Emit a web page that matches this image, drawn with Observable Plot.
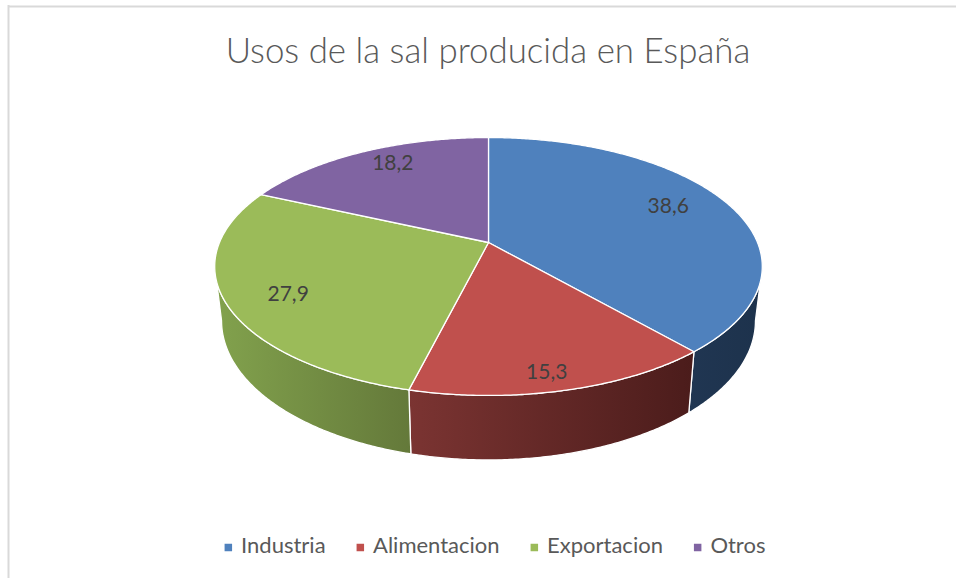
<!DOCTYPE html>
<html><head><meta charset="utf-8">
<script src="https://cdn.jsdelivr.net/npm/d3@7"></script>
<script src="https://cdn.jsdelivr.net/npm/@observablehq/plot@0.6"></script>
<style>
html,body{margin:0;padding:0;background:#fff;}
#chart svg{display:block;}
</style></head><body><div id="chart"></div>
<script>
// ---- data ----
const title = "Usos de la sal producida en España";
const categories = ["Industria", "Alimentacion", "Exportacion", "Otros"];
const values = [38.6, 15.3, 27.9, 18.2];
const valueLabels = ["38,6", "15,3", "27,9", "18,2"];
const colors = ["#4f81bd", "#c0504d", "#9bbb59", "#8064a2"];
const sideColors = [["#203652", "#1d324c"], ["#7b3432", "#4b1c1b"], ["#82a24d", "#64793a"], ["#5f4a7a", "#4a3a60"]];

// ---- layout / projection ----
const W = 956, H = 578;
const cx = 488, cy = 242, A = 269, B = 124.5, K = 0.186, DEPTH = 52.5, SHRINK = 0.975;
const FONT = "Lato, 'Open Sans', sans-serif";
function proj(t, r = 1) {
  const X = r * Math.sin(t), Y = -r * Math.cos(t), w = 1 - K * Y;
  return [cx + A * X / w, cy + B * Y / w, w];
}
function bottom(t) {
  const [x, y, w] = proj(t);
  return [cx + (x - cx) * SHRINK, y + DEPTH / w];
}
function arcPts(a0, a1, f) {
  const n = Math.max(2, Math.ceil((a1 - a0) / (Math.PI / 360)));
  return d3.range(n + 1).map(k => f(a0 + (a1 - a0) * k / n));
}

const total = d3.sum(values);
let acc = 0;
const slices = categories.map((cat, i) => {
  const a0 = acc / total * 2 * Math.PI; acc += values[i];
  const a1 = acc / total * 2 * Math.PI;
  return {cat, i, a0, a1, mid: (a0 + a1) / 2};
});

// top faces
const topRows = [];
for (const s of slices) {
  const pts = [[cx, cy], ...arcPts(s.a0, s.a1, t => proj(t))];
  for (const p of pts) topRows.push({cat: s.cat, x: p[0], y: p[1]});
}

// visible sides
const vis0 = Math.acos(-K), vis1 = 2 * Math.PI - vis0;
const sides = [];
for (const s of slices) {
  const s0 = Math.max(s.a0, vis0), s1 = Math.min(s.a1, vis1);
  if (s1 <= s0) continue;
  const top = arcPts(s0, s1, t => proj(t));
  const bot = arcPts(s0, s1, bottom).reverse();
  const rows = top.concat(bot).map(p => ({x: p[0], y: p[1]}));
  sides.push({i: s.i, rows, ext: d3.extent(rows, d => d.x)});
}

// data labels
const labelRows = slices.map(s => {
  const [rx, ry] = proj(s.mid);
  return {x: cx + 0.76 * (rx - cx), y: cy + 0.88 * (ry - cy), t: valueLabels[s.i]};
});

// legend layout
const ctx = document.createElement("canvas").getContext("2d");
const legendSize = 22;
ctx.font = `${legendSize}px Lato`;
const sq = 7.5, sqGap = 9, itemGap = 31;
const widths = categories.map(c => ctx.measureText(c).width);
const totalW = d3.sum(widths) + categories.length * (sq + sqGap) + (categories.length - 1) * itemGap;
let lx = 494.5 - totalW / 2;
const legendRows = categories.map((c, i) => {
  const r = {cat: c, sx: lx + sq / 2, tx: lx + sq + sqGap};
  lx += sq + sqGap + widths[i] + itemGap;
  return r;
});
const legendY = 545;

// title size fitted to width
ctx.font = `300 40px Lato`;
const titleSize = 40 * 525 / ctx.measureText(title).width;

const marks = [
  Plot.ruleY([6], {x1: 8, x2: W, stroke: "#d9d9d9", strokeWidth: 2}),
  Plot.ruleX([8], {y1: 5, y2: H, stroke: "#d9d9d9", strokeWidth: 2}),
  ...sides.map(sd => Plot.line(sd.rows, {x: "x", y: "y", fill: `url(#side-${sd.i})`, stroke: "#fff", strokeWidth: 1.3, curve: "linear-closed"})),
  Plot.line(topRows, {x: "x", y: "y", z: "cat", fill: "cat", stroke: "#fff", strokeWidth: 1.3, curve: "linear-closed"}),
  Plot.text(labelRows, {x: "x", y: "y", text: "t", fill: "#404040", fontSize: 21, fontFamily: FONT}),
  Plot.text([title], {x: () => 487.5, y: () => 51, text: d => d, fill: "#595959", fontSize: titleSize, fontWeight: 300, fontFamily: FONT}),
  Plot.dot(legendRows, {x: "sx", y: () => legendY + 2, symbol: "square", r: sq / Math.sqrt(Math.PI), fill: "cat", stroke: null}),
  Plot.text(legendRows, {x: "tx", y: () => legendY, text: "cat", textAnchor: "start", fill: "#595959", fontSize: legendSize, fontFamily: FONT})
];

const svg = Plot.plot({
  width: W, height: H, margin: 0,
  x: {domain: [0, W], range: [0, W], axis: null},
  y: {domain: [0, H], range: [0, H], axis: null},
  color: {type: "ordinal", domain: categories, range: colors},
  style: {background: "#fff"},
  marks
});

const defs = d3.select(svg).insert("defs", ":first-child");
for (const sd of sides) {
  const g = defs.append("linearGradient").attr("id", `side-${sd.i}`)
    .attr("gradientUnits", "userSpaceOnUse")
    .attr("x1", sd.ext[0]).attr("x2", sd.ext[1]).attr("y1", 0).attr("y2", 0);
  g.append("stop").attr("offset", "0%").attr("stop-color", sideColors[sd.i][0]);
  g.append("stop").attr("offset", "100%").attr("stop-color", sideColors[sd.i][1]);
}
document.getElementById("chart").appendChild(svg);
</script>
</body></html>
